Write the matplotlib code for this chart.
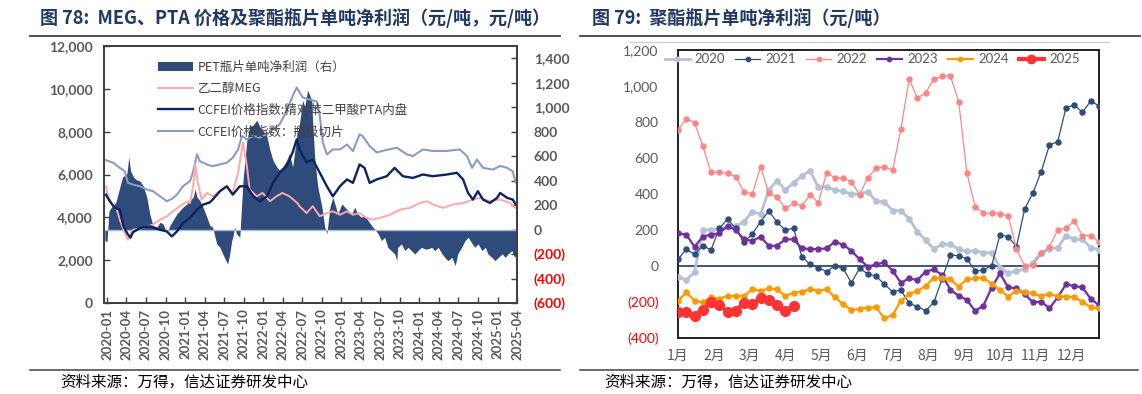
import matplotlib
matplotlib.use("Agg")
import matplotlib.pyplot as plt
from matplotlib.lines import Line2D
from matplotlib.patches import Patch
import pandas as pd
import numpy as np

# ---------------- data: left chart (figure 78) ----------------
bc_dates = ['2019-12-27','2020-01-29','2020-03-01','2020-03-24','2020-04-08','2020-05-01','2020-06-03','2020-07-05',
            '2020-08-03','2020-09-05','2020-10-07','2020-10-30','2020-11-23','2020-12-21','2021-01-23','2021-02-07',
            '2021-02-25','2021-03-10','2021-04-12','2021-05-09','2021-06-12','2021-07-14','2021-08-11','2021-09-05',
            '2021-09-23','2021-10-16','2021-11-14','2021-12-16','2022-01-18','2022-02-15','2022-03-18','2022-04-20',
            '2022-05-18','2022-06-06','2022-07-04','2022-08-06','2022-09-09','2022-09-22','2022-10-06','2022-10-25',
            '2022-11-22','2022-12-25','2023-01-27','2023-02-24','2023-03-27','2023-04-10','2023-05-13','2023-06-15',
            '2023-08-01','2023-09-17','2023-11-03','2023-12-01','2024-01-17','2024-03-03','2024-05-08','2024-07-07',
            '2024-08-10','2024-09-03','2024-09-26','2024-10-24','2024-12-10','2025-01-12','2025-02-14','2025-03-12',
            '2025-03-26']
bc_values = [6670,6550,6310,6150,5610,5530,5450,5300,5220,4980,4750,4860,5060,5450,5690,6150,
             6940,6620,6470,6390,6470,6550,6780,7170,7800,7640,7800,7720,7875,8110,8340,8970,
             9670,10060,9600,9500,9400,8730,7500,6940,7170,7170,7400,7090,7875,7800,7330,7030,
             7150,7250,6940,6860,7170,7100,7100,7170,6860,6310,6700,6310,6230,6400,6310,6150,
             5620]

pta_dates = ['2019-12-27','2020-01-14','2020-02-07','2020-03-01','2020-03-18','2020-04-08','2020-04-20','2020-05-01',
             '2020-06-03','2020-07-19','2020-09-05','2020-10-07','2020-10-30','2020-11-23','2020-12-21','2021-01-23',
             '2021-02-25','2021-03-25','2021-04-26','2021-05-09','2021-06-12','2021-07-14','2021-08-11','2021-09-13',
             '2021-10-16','2021-11-14','2021-12-16','2022-01-18','2022-02-15','2022-03-18','2022-04-20','2022-05-18',
             '2022-06-06','2022-06-19','2022-07-22','2022-08-20','2022-09-22','2022-10-25','2022-11-22','2022-12-25',
             '2023-01-27','2023-02-24','2023-03-27','2023-04-19','2023-05-13','2023-06-15','2023-08-01','2023-09-07',
             '2023-10-15','2023-12-01','2024-01-17','2024-03-03','2024-05-08','2024-06-24','2024-07-23','2024-08-15',
             '2024-09-07','2024-09-30','2024-10-24','2024-11-25','2024-12-29','2025-01-12','2025-02-14','2025-03-12',
             '2025-03-26']
pta_values = [5060,4750,4440,4360,3580,3200,3050,3300,3500,3580,3420,3340,3110,3340,3730,3970,
              4360,4590,4700,4830,5220,5450,5060,5450,5450,4980,4750,4980,5610,6080,6390,7030,
              7640,7170,6560,6700,6080,5450,4980,5450,5770,5610,6470,6310,5610,5770,5920,6310,
              5920,5840,6000,5920,6000,6080,5770,5140,4830,5220,4830,4670,4910,5140,4910,4830,
              4600]

meg_dates = ['2019-12-27','2020-01-06','2020-01-29','2020-02-16','2020-03-01','2020-03-24','2020-04-08','2020-05-01',
             '2020-06-18','2020-08-03','2020-09-05','2020-10-07','2020-11-04','2020-12-07','2021-01-09','2021-01-23',
             '2021-02-07','2021-02-16','2021-03-01','2021-03-18','2021-04-12','2021-05-09','2021-06-12','2021-07-14',
             '2021-08-11','2021-09-05','2021-09-28','2021-10-16','2021-10-29','2021-12-01','2021-12-28','2022-02-01',
             '2022-03-03','2022-03-31','2022-05-03','2022-06-09','2022-06-19','2022-07-22','2022-08-20','2022-09-22',
             '2022-10-25','2022-11-22','2022-12-25','2023-01-27','2023-02-24','2023-03-27','2023-04-29','2023-05-27',
             '2023-06-29','2023-08-16','2023-10-01','2023-11-17','2024-01-02','2024-02-06','2024-03-03','2024-04-20',
             '2024-06-05','2024-07-23','2024-09-07','2024-10-10','2024-11-25','2025-01-12','2025-02-28','2025-03-26']
meg_values = [5450,5000,4520,4360,3890,3270,2950,3420,3500,3660,3890,4050,4280,4520,4750,4670,
              5450,6470,5610,4830,5140,4980,5220,5450,5140,6080,7500,6390,5300,4980,5140,4750,
              4980,5140,4980,4670,4520,4200,4520,4050,4200,4280,4120,4280,4120,4200,3970,3890,
              3970,4120,4360,4440,4670,4750,4600,4440,4600,4670,4830,4910,4750,4830,4670,4440]

profit_dates = ['2019-12-22','2020-01-01','2020-01-10','2020-01-24','2020-02-11','2020-03-01','2020-03-14','2020-04-03',
                '2020-04-12','2020-04-20','2020-05-04','2020-05-18','2020-06-03','2020-06-18','2020-07-05','2020-07-19',
                '2020-08-03','2020-08-21','2020-09-05','2020-09-19','2020-10-07','2020-10-21','2020-11-04','2020-11-23',
                '2020-12-07','2020-12-21','2021-01-09','2021-01-23','2021-02-07','2021-02-16','2021-02-25','2021-03-10',
                '2021-03-25','2021-04-12','2021-04-26','2021-05-09','2021-05-28','2021-06-12','2021-06-25','2021-07-14',
                '2021-07-18','2021-07-28','2021-08-06','2021-08-11','2021-08-20','2021-08-29','2021-09-13','2021-09-28',
                '2021-10-16','2021-10-29','2021-11-14','2021-12-01','2021-12-16','2021-12-28','2022-01-18','2022-02-01',
                '2022-02-15','2022-03-05','2022-03-18','2022-04-01','2022-04-20','2022-05-03','2022-05-18','2022-06-06',
                '2022-06-19','2022-07-04','2022-07-13','2022-07-27','2022-08-15','2022-08-20','2022-08-29','2022-09-09',
                '2022-09-13','2022-10-02','2022-10-15','2022-10-25','2022-11-08','2022-11-22','2022-12-15','2023-01-03',
                '2023-01-17','2023-02-01','2023-02-19','2023-03-04','2023-03-18','2023-04-04','2023-04-19','2023-05-06',
                '2023-05-22','2023-06-07','2023-06-22','2023-07-07','2023-07-22','2023-08-06','2023-08-22','2023-09-07',
                '2023-09-17','2023-09-21','2023-10-09','2023-10-24','2023-11-09','2023-11-24','2023-12-10','2023-12-25',
                '2024-01-10','2024-01-27','2024-02-10','2024-02-27','2024-03-13','2024-03-28','2024-04-16','2024-04-28',
                '2024-05-13','2024-06-01','2024-06-16','2024-06-28','2024-07-16','2024-08-01','2024-08-16','2024-09-04',
                '2024-09-16','2024-10-01','2024-10-19','2024-11-04','2024-11-16','2024-12-04','2024-12-19','2025-01-04',
                '2025-01-22','2025-02-05','2025-02-18','2025-03-08','2025-03-20','2025-03-31']
profit_values = [-90,-100,150,190,220,347,430,457,593,480,429,406,397,357,265,128,
                 33,20,60,46,-30,33,74,128,155,183,210,238,265,330,265,238,
                 183,101,33,20,-117,-145,-199,-268,-282,-199,-90,-63,20,-35,-63,402,
                 730,839,853,894,839,812,757,648,566,511,484,511,566,621,511,757,
                 866,1058,1003,1140,1058,866,593,402,347,183,20,-35,183,265,128,210,
                 183,155,128,183,128,101,114,74,33,0,-35,-90,-63,-145,-172,-199,
                 -254,-145,-117,-172,-145,-172,-199,-172,-145,-158,-158,-145,-172,-145,-199,-227,
                 -254,-227,-295,-199,-145,-90,-63,-117,-145,-117,-172,-145,-199,-227,-254,-227,
                 -199,-227,-199,-172,-227,-200]

date_ticks = pd.date_range('2020-01-01', '2025-04-01', freq='3MS')
left_yticks = [0, 2000, 4000, 6000, 8000, 10000, 12000]
right_yticks = [-600, -400, -200, 0, 200, 400, 600, 800, 1000, 1200, 1400]

# ---------------- data: right chart (figure 79), weekly ----------------
months = ['1月','2月','3月','4月','5月','6月','7月','8月','9月','10月','11月','12月']
years = ['2020', '2021', '2022', '2023', '2024', '2025']
y2020 = [-59,-78,-35,200,201,205,218,222,246,302,287,422,474,422,463,500,530,437,441,422,415,400,400,
         413,359,357,307,307,263,191,144,94,122,120,93,81,85,74,74,-9,-41,-26,-19,19,74,94,102,169,148,148,102,89]
y2021 = [37,94,65,113,89,209,261,209,131,178,246,306,243,200,209,52,9,-9,-31,0,-13,-93,-13,
         -44,-56,-102,-143,-133,-207,-226,-248,-202,-70,61,57,40,-28,-22,2,172,163,107,317,407,524,672,691,880,894,854,917,889]
y2022 = [756,818,796,667,520,520,515,496,411,400,552,404,382,320,348,335,394,352,518,491,491,468,396,
         491,543,552,533,761,1039,932,963,1037,1056,1056,913,515,328,293,293,289,280,93,0,5,70,107,200,209,250,169,169,135]
y2023 = [181,175,107,163,175,181,222,200,148,139,163,111,113,148,148,98,94,94,98,135,118,85,37,
         -4,9,20,-26,-93,-69,-78,-31,-19,-50,-133,-165,-189,-250,-220,-120,-41,-119,-124,-156,-202,-198,-235,-174,-102,-111,-119,-183,-217]
y2024 = [-194,-146,-193,-202,-174,-183,-165,-167,-167,-128,-139,-124,-130,-167,-148,-143,-128,-137,-130,-174,-213,-244,-239,
         -231,-230,-291,-272,-193,-156,-139,-111,-65,-69,-74,-115,-74,-69,-65,-100,-133,-170,-137,-143,-152,-167,-157,-167,-170,-174,-198,-230,-235]
y2025 = [-254,-254,-278,-244,-202,-217,-254,-248,-204,-211,-180,-189,-217,-248,-222]
right_yticks2 = [-400, -200, 0, 200, 400, 600, 800, 1000, 1200]

# ---------------- styling ----------------
CJK = ['Noto Sans CJK SC', 'DejaVu Sans']
LAT = ['Lato', 'DejaVu Sans']
plt.rcParams['font.family'] = CJK
W, H = 1142, 394
fig = plt.figure(figsize=(W / 100, H / 100), dpi=100)

def fx(x):
    return x / W

def fy(y):
    return 1 - y / H

def hline(x0, x1, y, color='#404040', lw=1.2):
    fig.add_artist(Line2D([fx(x0), fx(x1)], [fy(y), fy(y)], transform=fig.transFigure,
                          color=color, lw=lw))

TITLE_C = '#1F3864'
GREY = '#595959'

# titles and separators
fig.text(fx(40), fy(18), '图 78:  MEG、PTA 价格及聚酯瓶片单吨净利润（元/吨，元/吨）', fontsize=13,
         fontweight='bold', color=TITLE_C, va='center', ha='left', family=CJK)
fig.text(fx(592), fy(18), '图 79:  聚酯瓶片单吨净利润（元/吨）', fontsize=13,
         fontweight='bold', color=TITLE_C, va='center', ha='left', family=CJK)
hline(30, 560, 36, lw=1.3)
hline(580, 1140, 36, lw=1.3)
hline(630, 1109, 42, color='#D0D0D0', lw=1)
hline(30, 560, 370, lw=1.1)
hline(580, 1138, 370, lw=1.1)
fig.text(fx(60), fy(382), '资料来源：万得，信达证券研发中心', fontsize=11.2, color='#000000',
         va='center', ha='left', family=CJK)
fig.text(fx(604), fy(382), '资料来源：万得，信达证券研发中心', fontsize=11.2, color='#000000',
         va='center', ha='left', family=CJK)

# ---------------- left chart ----------------
ax = fig.add_axes([fx(104), fy(303), fx(517 - 104), (303 - 46) / H])
ax2 = ax.twinx()
ax.set_zorder(ax2.get_zorder() + 1)
ax.patch.set_visible(False)

pdates = pd.to_datetime(profit_dates)
ax2.fill_between(pdates, profit_values, 0, color='#2F4B7C', linewidth=0)
ax2.axhline(0, color='#A9BAD6', lw=1.0)

c_meg = '#FFA8A8'
c_pta = '#0A2463'
c_bc = '#8A9CC2'
ax.plot(pd.to_datetime(bc_dates), bc_values, color=c_bc, lw=1.5)
ax.plot(pd.to_datetime(meg_dates), meg_values, color=c_meg, lw=1.4)
ax.plot(pd.to_datetime(pta_dates), pta_values, color=c_pta, lw=1.7)

ax.set_xlim(pd.Timestamp('2019-12-18'), pd.Timestamp('2025-04-01'))
ax.set_ylim(0, 12000)
ax2.set_ylim(-600, 1500)

ax.set_yticks(left_yticks)
ax.set_yticklabels([f'{v:,}' for v in left_yticks], family=LAT,
                   fontweight='bold', fontsize=10, color=GREY)
ax2.set_yticks(right_yticks)
labs = [f'({abs(v):,})' if v < 0 else f'{v:,}' for v in right_yticks]
ax2.set_yticklabels(labs, family=LAT, fontweight='bold', fontsize=10)
for v, t in zip(right_yticks, ax2.get_yticklabels()):
    t.set_color('#FF0000' if v < 0 else GREY)

ax.set_xticks(date_ticks)
ax.set_xticklabels([d.strftime('%Y-%m') for d in date_ticks], rotation=90,
                   family=LAT, fontweight='bold', fontsize=9.5, color=GREY)

for a in (ax, ax2):
    a.tick_params(direction='in', length=4, width=1, color='#404040')
    for s in a.spines.values():
        s.set_color('#404040')
        s.set_linewidth(1.4)
ax.tick_params(axis='x', pad=4)
ax.tick_params(axis='y', pad=8)
ax2.tick_params(axis='y', pad=12)

handles = [Patch(facecolor='#2F4B7C', edgecolor='none'),
           Line2D([], [], color=c_meg, lw=1.4),
           Line2D([], [], color=c_pta, lw=1.7),
           Line2D([], [], color=c_bc, lw=1.5)]
labels = ['PET瓶片单吨净利润（右）', '乙二醇MEG', 'CCFEI价格指数:精对苯二甲酸PTA内盘', 'CCFEI价格指数：瓶级切片']
leg = ax.legend(handles, labels, loc='upper left', bbox_to_anchor=(0.118, 0.962), frameon=False,
                labelspacing=0.68, handlelength=2.8, handletextpad=0.4, borderaxespad=0,
                prop={'family': CJK, 'size': 9})
for t in leg.get_texts():
    t.set_color('#404040')

# ---------------- right chart ----------------
bx = fig.add_axes([fx(678), fy(338), fx(1099 - 678), (338 - 50) / H])
series = [y2020, y2021, y2022, y2023, y2024, y2025]
colors = ['#B4C1D6', '#2E4D7B', '#FF8585', '#7030A0', '#FF9900', '#FF3333']
lws = [2.0, 0.9, 0.9, 1.6, 1.6, 3.0]
mss = [3.8, 3.6, 3.6, 3.6, 3.6, 7.0]
bx.axhline(0, color='#1F3864', lw=1.2, zorder=1)
for ser, c, lw, ms, lab in zip(series, colors, lws, mss, years):
    xs = np.arange(len(ser))
    bx.plot(xs, ser, color=c, lw=lw, marker='o', ms=ms, mec=c, mfc=c, label=lab, zorder=3)

bx.set_xlim(0, 51)
bx.set_ylim(-400, 1200)
bx.set_yticks(right_yticks2)
labs2 = [f'({abs(v):,})' if v < 0 else f'{v:,}' for v in right_yticks2]
bx.set_yticklabels(labs2, family=LAT, fontsize=10)
for v, t in zip(right_yticks2, bx.get_yticklabels()):
    t.set_color('#FF0000' if v < 0 else GREY)
bx.set_xticks([i * 52 / 12 for i in range(12)])
bx.set_xticklabels(months, family=CJK, fontsize=10, color=GREY)
bx.tick_params(length=0, pad=8)
bx.tick_params(axis='y', pad=14)
for s in bx.spines.values():
    s.set_color('#202020')
    s.set_linewidth(1.4)
leg2 = bx.legend(loc='upper center', bbox_to_anchor=(0.461, 1.03), ncol=6, frameon=False,
                 handlelength=1.9, columnspacing=0.75, handletextpad=0.4, markerscale=0.85,
                 prop={'family': LAT, 'size': 9.5})
for t in leg2.get_texts():
    t.set_color(GREY)

fig.savefig('out.png', dpi=100)
